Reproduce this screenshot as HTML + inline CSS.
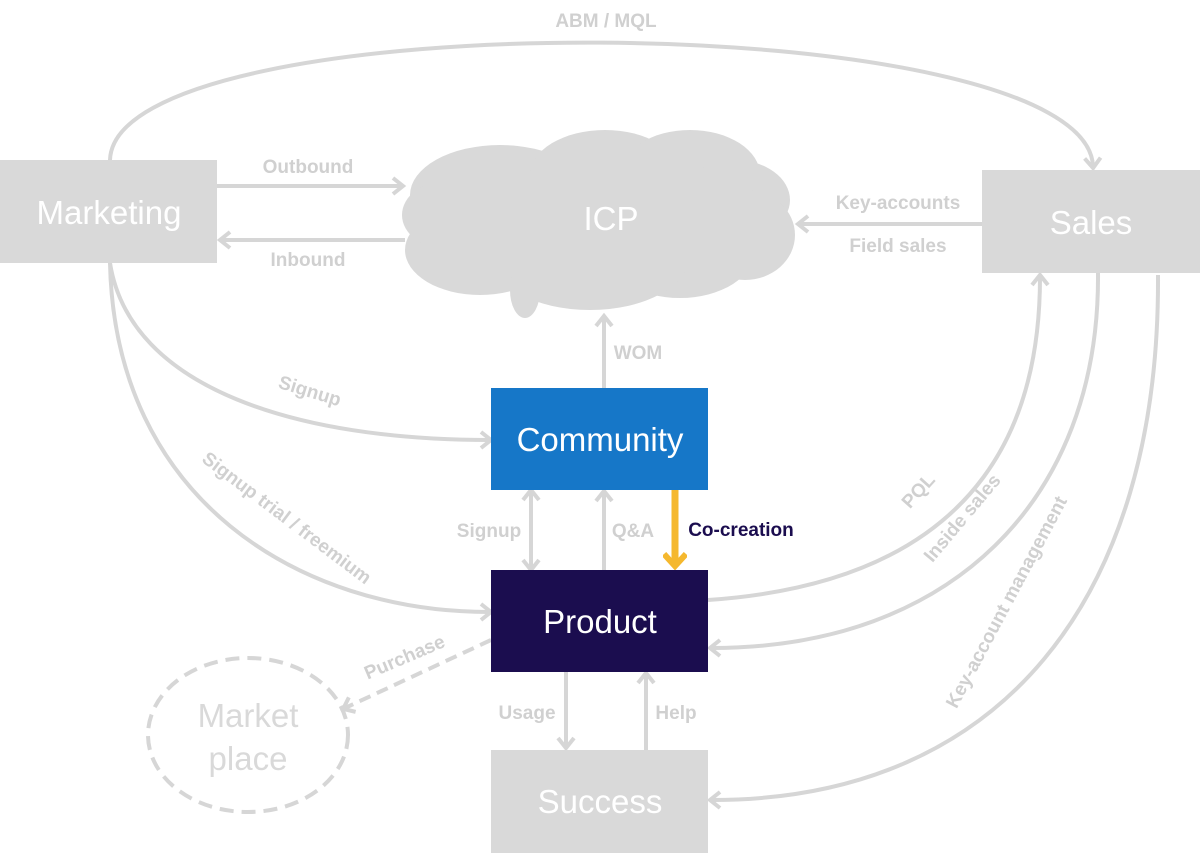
<!DOCTYPE html>
<html><head><style>body{margin:0;background:#fff}svg{display:block}text{font-family:"Liberation Sans",sans-serif}</style></head><body>
<svg width="1200" height="853" viewBox="0 0 1200 853" xmlns="http://www.w3.org/2000/svg">
<defs>
<marker id="b" markerWidth="20" markerHeight="20" refX="10" refY="10" orient="auto" markerUnits="userSpaceOnUse" viewBox="0 0 20 20"><path d="M2,2 L12,10 L2,18" fill="none" stroke="#d6d6d6" stroke-width="4"/></marker>
<marker id="y" markerWidth="24" markerHeight="24" refX="12" refY="12" orient="auto" markerUnits="userSpaceOnUse" viewBox="0 0 24 24"><path d="M2,1 L14,12 L2,23" fill="none" stroke="#f5b82e" stroke-width="6"/></marker>
</defs>
<g fill="none" stroke="#d6d6d6" stroke-width="4">
<path d="M110,160 C115,0 1085,5 1093,166" marker-end="url(#b)"/>
<path d="M217,186 L401,186" marker-end="url(#b)"/>
<path d="M405,240 L222,240" marker-end="url(#b)"/>
<path d="M982,224 L800,224" marker-end="url(#b)"/>
<path d="M604,388 L604,318" marker-end="url(#b)"/>
<path d="M110,263 C130,390 300,440 489,440" marker-end="url(#b)"/>
<path d="M110,263 C115,500 300,612 489,612" marker-end="url(#b)"/>
<path d="M531,510 L531,550"/>
<path d="M531,530 L531,492" marker-end="url(#b)"/>
<path d="M531,530 L531,568" marker-end="url(#b)"/>
<path d="M604,570 L604,493" marker-end="url(#b)"/>
<path d="M491,640 L345,708" stroke-dasharray="12,7" marker-end="url(#b)"/>
<path d="M566,672 L566,746" marker-end="url(#b)"/>
<path d="M646,750 L646,675" marker-end="url(#b)"/>
<path d="M708,600 C1000,580 1040,400 1040,277" marker-end="url(#b)"/>
<path d="M1098,273 C1100,500 950,648 712,648" marker-end="url(#b)"/>
<path d="M1158,275 C1160,600 1000,800 712,800" marker-end="url(#b)"/>
</g>
<path d="M675,490 L675,564" stroke="#f5b82e" stroke-width="7" fill="none" marker-end="url(#y)"/>
<g fill="#d9d9d9">
<rect x="0" y="160" width="217" height="103"/>
<rect x="982" y="170" width="218" height="103"/>
<rect x="491" y="750" width="217" height="103"/>
<ellipse cx="500" cy="195" rx="90" ry="50"/>
<ellipse cx="605" cy="175" rx="75" ry="45"/>
<ellipse cx="690" cy="175" rx="70" ry="45"/>
<ellipse cx="735" cy="200" rx="55" ry="40"/>
<ellipse cx="745" cy="235" rx="50" ry="45"/>
<ellipse cx="680" cy="250" rx="75" ry="48"/>
<ellipse cx="590" cy="255" rx="100" ry="55"/>
<ellipse cx="480" cy="250" rx="75" ry="45"/>
<ellipse cx="450" cy="215" rx="48" ry="35"/>
<ellipse cx="525" cy="290" rx="15" ry="28"/>
<rect x="470" y="190" width="280" height="80"/>
</g>
<ellipse cx="248" cy="735" rx="100" ry="77" fill="none" stroke="#d6d6d6" stroke-width="4" stroke-dasharray="14,8"/>
<rect x="491" y="388" width="217" height="102" fill="#1677c8"/>
<rect x="491" y="570" width="217" height="102" fill="#1b0d4f"/>
<g fill="#fff" font-size="33" text-anchor="middle">
<text x="109" y="224">Marketing</text>
<text x="1091" y="234">Sales</text>
<text x="611" y="230">ICP</text>
<text x="600" y="451">Community</text>
<text x="600" y="633">Product</text>
<text x="600" y="813">Success</text>
</g>
<g fill="#d9d9d9" font-size="33" text-anchor="middle"><text x="248" y="727">Market</text><text x="248" y="770">place</text></g>
<g fill="#d0d0d0" font-size="19" font-weight="bold" text-anchor="middle">
<text x="606" y="27">ABM / MQL</text>
<text x="308" y="173">Outbound</text>
<text x="308" y="266">Inbound</text>
<text x="898" y="209">Key-accounts</text>
<text x="898" y="252">Field sales</text>
<text x="638" y="359">WOM</text>
<text x="489" y="537">Signup</text>
<text x="633" y="537">Q&amp;A</text>
<text x="527" y="719">Usage</text>
<text x="676" y="719">Help</text>
<text transform="translate(308,397) rotate(17)">Signup</text>
<text transform="translate(283,523) rotate(37)">Signup trial / freemium</text>
<text transform="translate(407,663) rotate(-23)">Purchase</text>
<text transform="translate(923,495) rotate(-48)">PQL</text>
<text transform="translate(967,522) rotate(-50)">Inside sales</text>
<text transform="translate(1012,605) rotate(-62)">Key-account management</text>
</g>
<text x="741" y="536" fill="#1b0d4f" font-size="19" font-weight="bold" text-anchor="middle">Co-creation</text>
</svg>
</body></html>
